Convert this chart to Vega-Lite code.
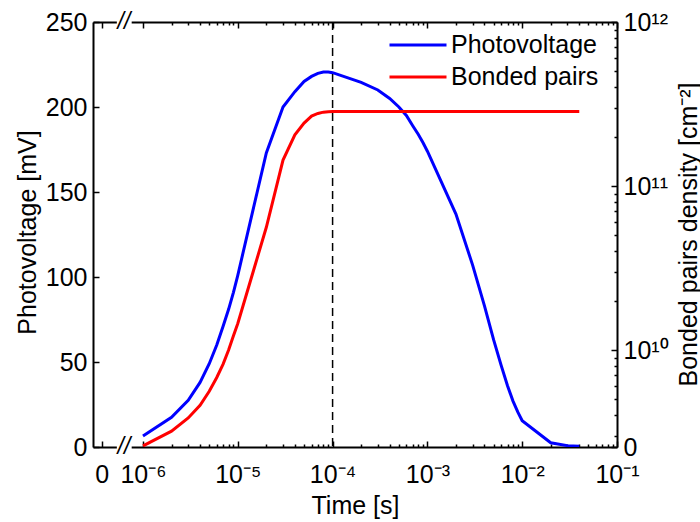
{
  "$schema": "https://vega.github.io/schema/vega-lite/v6.json",
  "width": 524,
  "height": 425,
  "autosize": "none",
  "padding": {"left": 93, "top": 22, "right": 83, "bottom": 75},
  "background": "white",
  "config": {
    "font": "Liberation Sans",
    "view": {"stroke": null},
    "axis": {"grid": false, "labelColor": "black", "titleColor": "black", "tickColor": "black", "domainColor": "black", "labelFontSize": 25, "titleFontSize": 25, "titleFontWeight": "normal", "labelFlush": false, "labelOverlap": false, "labelBound": false, "domainWidth": 2, "tickWidth": 1.5, "zindex": 0}
  },
  "datasets": {
    "pv": [
      {"t": 1e-6, "v": 6.5}, {"t": 2e-6, "v": 17.5}, {"t": 3e-6, "v": 27.5}, {"t": 4e-6, "v": 38}, {"t": 5e-6, "v": 49},
      {"t": 6e-6, "v": 60}, {"t": 7e-6, "v": 71}, {"t": 8e-6, "v": 81}, {"t": 9e-6, "v": 91}, {"t": 1e-5, "v": 101},
      {"t": 2e-5, "v": 173}, {"t": 3e-5, "v": 200}, {"t": 4e-5, "v": 209}, {"t": 5e-5, "v": 215}, {"t": 6e-5, "v": 218},
      {"t": 7e-5, "v": 219.8}, {"t": 8e-5, "v": 220.6}, {"t": 9e-5, "v": 220.6}, {"t": 1e-4, "v": 220.2}, {"t": 2e-4, "v": 214.5},
      {"t": 3e-4, "v": 210}, {"t": 4e-4, "v": 205}, {"t": 5e-4, "v": 200}, {"t": 6e-4, "v": 195}, {"t": 7e-4, "v": 189},
      {"t": 8e-4, "v": 184}, {"t": 9e-4, "v": 179}, {"t": 1e-3, "v": 174}, {"t": 2e-3, "v": 137}, {"t": 3e-3, "v": 107},
      {"t": 4e-3, "v": 83}, {"t": 5e-3, "v": 63}, {"t": 6e-3, "v": 48}, {"t": 7e-3, "v": 36}, {"t": 8e-3, "v": 27},
      {"t": 9e-3, "v": 20.5}, {"t": 1e-2, "v": 15.5}, {"t": 2e-2, "v": 2.5}, {"t": 3e-2, "v": 0.8}, {"t": 4e-2, "v": 0.4}
    ],
    "bp": [
      {"t": 1e-6, "n": 2.6e9}, {"t": 2e-6, "n": 3.2e9}, {"t": 3e-6, "n": 3.85e9}, {"t": 4e-6, "n": 4.6e9}, {"t": 5e-6, "n": 5.6e9},
      {"t": 6e-6, "n": 6.8e9}, {"t": 7e-6, "n": 8.2e9}, {"t": 8e-6, "n": 1.0e10}, {"t": 9e-6, "n": 1.22e10}, {"t": 1e-5, "n": 1.45e10},
      {"t": 2e-5, "n": 5.6e10}, {"t": 3e-5, "n": 1.44e11}, {"t": 4e-5, "n": 2.05e11}, {"t": 5e-5, "n": 2.42e11}, {"t": 6e-5, "n": 2.67e11},
      {"t": 7e-5, "n": 2.77e11}, {"t": 8e-5, "n": 2.82e11}, {"t": 9e-5, "n": 2.84e11}, {"t": 1e-4, "n": 2.85e11}, {"t": 2e-4, "n": 2.85e11},
      {"t": 5e-4, "n": 2.85e11}, {"t": 1e-3, "n": 2.85e11}, {"t": 1e-2, "n": 2.85e11}, {"t": 4e-2, "n": 2.85e11}
    ],
    "marker": [{"t": 1e-4}],
    "breaks": [
      {"t": 6.3e-7, "t0": 5.3e-7, "t1": 7.6e-7, "v": 0},
      {"t": 6.3e-7, "t0": 5.3e-7, "t1": 7.6e-7, "v": 250}
    ]
  },
  "layer": [
    {
      "data": {"name": "pv"},
      "mark": {"type": "line", "strokeWidth": 3, "clip": true},
      "encoding": {
        "x": {
          "field": "t", "type": "quantitative",
          "scale": {"type": "log", "domain": [2.97e-7, 0.1], "nice": false},
          "axis": {
            "orient": "bottom",
            "title": "Time [s]",
            "values": [3.665e-7, 1e-6, 2e-6, 3e-6, 4e-6, 5e-6, 6e-6, 7e-6, 8e-6, 9e-6, 1e-5, 2e-5, 3e-5, 4e-5, 5e-5, 6e-5, 7e-5, 8e-5, 9e-5, 1e-4, 2e-4, 3e-4, 4e-4, 5e-4, 6e-4, 7e-4, 8e-4, 9e-4, 1e-3, 2e-3, 3e-3, 4e-3, 5e-3, 6e-3, 7e-3, 8e-3, 9e-3, 1e-2, 2e-2, 3e-2, 4e-2, 5e-2, 6e-2, 7e-2, 8e-2, 9e-2, 1e-1],
            "labelExpr": "datum.value < 5e-7 ? '0' : (abs(log(datum.value)/LN10 - round(log(datum.value)/LN10)) < 0.01 ? ['10⁻⁶','10⁻⁵','10⁻⁴','10⁻³','10⁻²','10⁻¹'][round(log(datum.value)/LN10)+6] : '')",
            "tickSize": {"condition": {"test": "datum.value < 5e-7 || abs(log(datum.value)/LN10 - round(log(datum.value)/LN10)) < 0.01", "value": -6}, "value": -3},
            "labelPadding": 21,
            "titleY": 58,
            "titleBaseline": "middle"
          }
        },
        "y": {
          "field": "v", "type": "quantitative",
          "scale": {"domain": [0, 250], "nice": false},
          "axis": {"orient": "left", "title": "Photovoltage [mV]", "values": [0, 50, 100, 150, 200, 250], "tickSize": -6, "labelPadding": 12, "titleX": -66, "titleY": 210, "titleBaseline": "middle", "titleAngle": -90}
        },
        "color": {
          "datum": "Photovoltage",
          "scale": {"domain": ["Photovoltage", "Bonded pairs"], "range": ["#0000ff", "#ff0000"]},
          "legend": {"orient": "none", "legendX": 295, "legendY": 7, "title": null, "symbolType": "stroke", "symbolSize": 3249, "symbolStrokeWidth": 3, "clipHeight": 32, "labelFontSize": 25, "labelColor": "black", "labelFont": "Liberation Sans", "rowPadding": 0, "labelOffset": 3, "padding": 0}
        }
      }
    },
    {
      "data": {"name": "bp"},
      "mark": {"type": "line", "strokeWidth": 3, "clip": true},
      "encoding": {
        "x": {
          "field": "t", "type": "quantitative",
          "scale": {"type": "log", "domain": [2.97e-7, 0.1], "nice": false},
          "axis": {
            "orient": "top",
            "title": null,
            "labels": false,
            "values": [3.665e-7, 1e-6, 2e-6, 3e-6, 4e-6, 5e-6, 6e-6, 7e-6, 8e-6, 9e-6, 1e-5, 2e-5, 3e-5, 4e-5, 5e-5, 6e-5, 7e-5, 8e-5, 9e-5, 1e-4, 2e-4, 3e-4, 4e-4, 5e-4, 6e-4, 7e-4, 8e-4, 9e-4, 1e-3, 2e-3, 3e-3, 4e-3, 5e-3, 6e-3, 7e-3, 8e-3, 9e-3, 1e-2, 2e-2, 3e-2, 4e-2, 5e-2, 6e-2, 7e-2, 8e-2, 9e-2, 1e-1],
            "tickSize": {"condition": {"test": "datum.value < 5e-7 || abs(log(datum.value)/LN10 - round(log(datum.value)/LN10)) < 0.01", "value": -6}, "value": -3}
          }
        },
        "y": {
          "field": "n", "type": "quantitative",
          "scale": {"type": "log", "domain": [2.562e9, 1e12], "nice": false},
          "axis": {
            "orient": "right",
            "title": "Bonded pairs density [cm⁻²]",
            "values": [2.562e9, 3e9, 4e9, 5e9, 6e9, 7e9, 8e9, 9e9, 1e10, 2e10, 3e10, 4e10, 5e10, 6e10, 7e10, 8e10, 9e10, 1e11, 2e11, 3e11, 4e11, 5e11, 6e11, 7e11, 8e11, 9e11, 1e12],
            "labelExpr": "datum.value < 2.9e9 ? '0' : (abs(log(datum.value)/LN10 - round(log(datum.value)/LN10)) < 0.01 ? ['10¹⁰','10¹¹','10¹²'][round(log(datum.value)/LN10)-10] : '')",
            "tickSize": {"condition": {"test": "datum.value < 2.9e9 || abs(log(datum.value)/LN10 - round(log(datum.value)/LN10)) < 0.01", "value": -6}, "value": -3},
            "labelPadding": 12,
            "titleX": 71,
            "titleY": 212,
            "titleAngle": -90,
            "titleBaseline": "middle"
          }
        },
        "color": {"datum": "Bonded pairs"}
      }
    },
    {
      "data": {"name": "marker"},
      "mark": {"type": "rule", "color": "black", "strokeWidth": 1.5, "strokeDash": [8, 5]},
      "encoding": {
        "x": {"field": "t", "type": "quantitative", "scale": {"type": "log", "domain": [2.97e-7, 0.1], "nice": false}, "axis": null}
      }
    },
    {
      "data": {"name": "breaks"},
      "mark": {"type": "rule", "color": "white", "strokeWidth": 5},
      "encoding": {
        "x": {"field": "t0", "type": "quantitative", "scale": {"type": "log", "domain": [2.97e-7, 0.1], "nice": false}, "axis": null},
        "x2": {"field": "t1"},
        "y": {"field": "v", "type": "quantitative", "scale": {"domain": [0, 250], "nice": false}, "axis": null}
      }
    },
    {
      "data": {"name": "breaks"},
      "mark": {"type": "text", "text": "//", "fontSize": 23, "fontStyle": "italic", "color": "black", "align": "center", "baseline": "middle", "font": "Liberation Sans"},
      "encoding": {
        "x": {"field": "t", "type": "quantitative", "scale": {"type": "log", "domain": [2.97e-7, 0.1], "nice": false}, "axis": null},
        "y": {"field": "v", "type": "quantitative", "scale": {"domain": [0, 250], "nice": false}, "axis": null}
      }
    }
  ],
  "resolve": {"scale": {"y": "independent"}, "axis": {"x": "independent", "y": "independent"}}
}
